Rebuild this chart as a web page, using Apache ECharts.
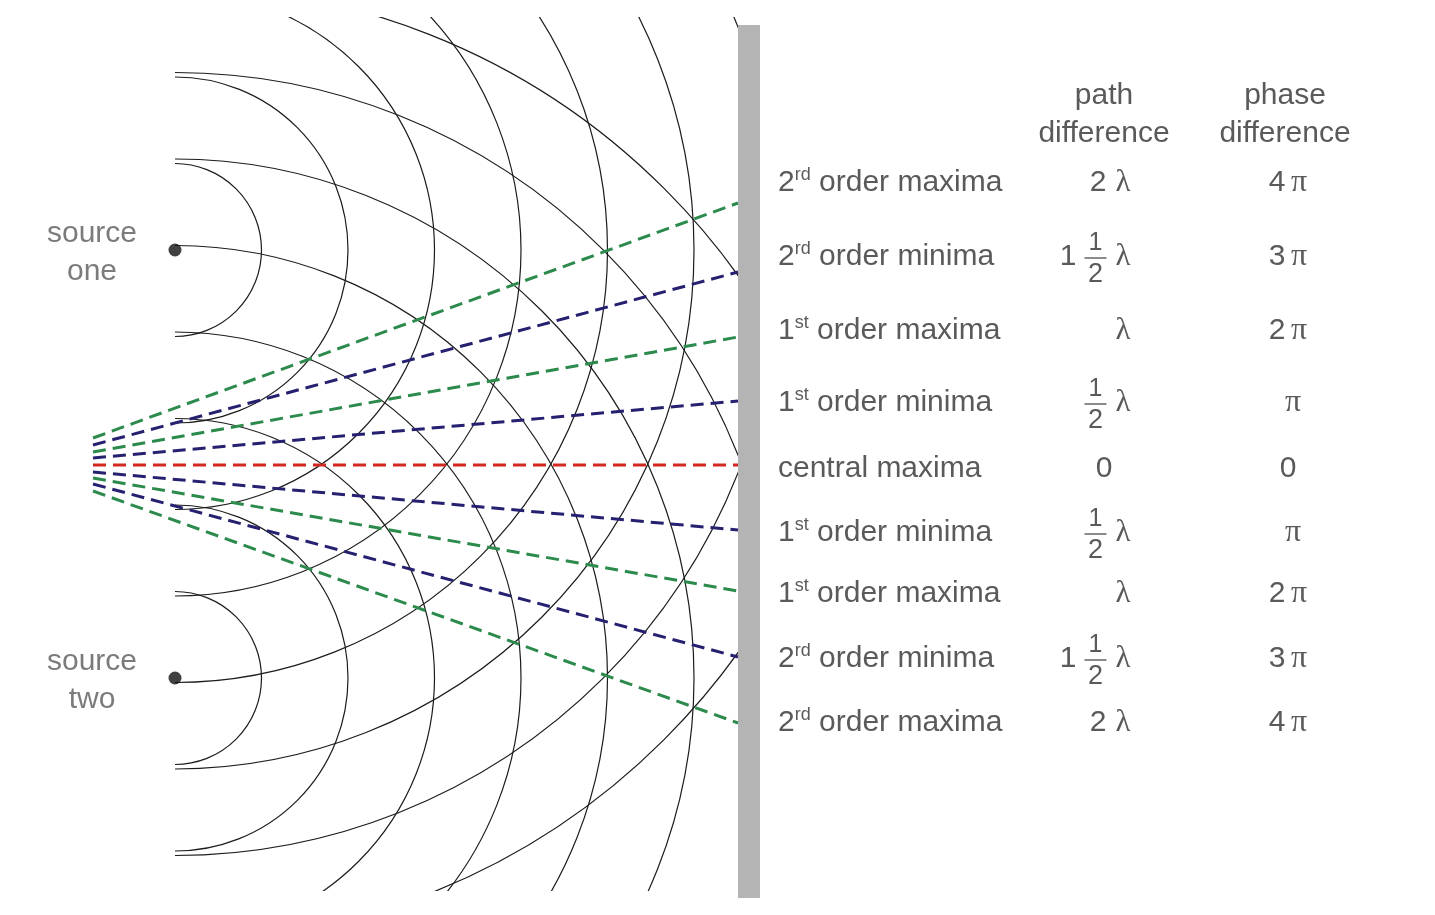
<!DOCTYPE html>
<html>
<head>
<meta charset="utf-8">
<title>Two-source interference</title>
<script src="https://cdn.jsdelivr.net/npm/echarts@6/dist/echarts.min.js"></script>
<style>
  html, body { margin: 0; padding: 0; background: #fff; }
  #chart { width: 1435px; height: 915px; }
</style>
</head>
<body>
<div id="chart"></div>
<script>
// sources and their wavefronts (one crest every wavelength)
const sourceNames = ['source\none', 'source\ntwo'];
const sourceX = [175, 175];
const sourceY = [250, 678];
const waveRadii = [86.5, 173, 259.5, 346, 432.5, 519, 605.5, 692];

// maxima / minima lines: start near the sources, end on the screen
const fringeKinds = ['max', 'min', 'max', 'min', 'central', 'min', 'max', 'min', 'max'];
const fringeStartY = [438, 445, 452, 458, 465, 472, 478, 484, 491];
const fringeEndY = [203, 272, 337, 401, 465, 530, 591, 657, 723];

// table on the right
const headers = ['path\ndifference', 'phase\ndifference'];
const rowLabels = ['2rd order maxima', '2rd order minima', '1st order maxima', '1st order minima',
  'central maxima', '1st order minima', '1st order maxima', '2rd order minima', '2rd order maxima'];
const rowY = [183, 257, 331, 403, 469, 533, 594, 659, 723];
const pathDiff = ['2λ', '1½λ', 'λ', '½λ', '0', '½λ', 'λ', '1½λ', '2λ'];
const phaseDiff = ['4π', '3π', '2π', 'π', '0', 'π', '2π', '3π', '4π'];

// layout
const FRINGE_X0 = 93;
const SCREEN_X = 738;
const WAVE_BOX = [175, 17, 738, 891];
const SCREEN_BOX = [738, 25, 760, 898];
const LABEL_X = 778;
const PATH_X = 1104;
const LAMBDA_X = 1123;
const PHASE_X = 1288;
const HEADER_Y = 115;

const FONT = '"Liberation Sans", Arial, sans-serif';
const SERIF = '"Liberation Serif", serif';
const TEXT = '#5a5a5a';
const fringeColors = { max: '#2b8a4c', min: '#25206f', central: '#d2281d' };

const chart = echarts.init(document.getElementById('chart'));

const arcData = [];
sourceX.forEach((x, s) => waveRadii.forEach(r => arcData.push([x, sourceY[s], r])));

function ordinalRich(label) {
  const m = label.match(/^(\d)(st|nd|rd|th)(.*)$/);
  if (!m) return '{t|' + label + '}';
  return '{t|' + m[1] + '}{s|' + m[2] + '}{t|' + m[3] + '}';
}

// path difference: digits, ½ drawn as a stacked fraction, λ
function pathChildren(str, cx, lx, cy) {
  const toks = Array.from(str);
  const w = t => (t === '½' ? 22 : 17);
  const gap = 8;
  const total = toks.reduce((a, t) => a + w(t), 0) + gap * (toks.length - 1);
  // anchor on λ when there is one, otherwise centre on the column
  let x = toks[toks.length - 1] === 'λ' ? lx + w('λ') / 2 - total : cx - total / 2;
  const out = [];
  toks.forEach(t => {
    const mid = x + w(t) / 2;
    if (t === '½') {
      out.push({ type: 'text', style: { text: '1', x: mid, y: cy - 14, align: 'center', verticalAlign: 'middle', fontSize: 25, fontFamily: FONT, fill: TEXT } });
      out.push({ type: 'line', shape: { x1: mid - 11, y1: cy + 1, x2: mid + 11, y2: cy + 1 }, style: { stroke: TEXT, lineWidth: 1.4 } });
      out.push({ type: 'text', style: { text: '2', x: mid, y: cy + 18, align: 'center', verticalAlign: 'middle', fontSize: 27, fontFamily: FONT, fill: TEXT } });
    } else if (t === 'λ') {
      out.push({ type: 'text', style: { text: t, x: mid, y: cy, align: 'center', verticalAlign: 'middle', fontSize: 31, fontFamily: SERIF, fill: TEXT } });
    } else {
      out.push({ type: 'text', style: { text: t, x: mid, y: cy, align: 'center', verticalAlign: 'middle', fontSize: 30, fontFamily: FONT, fill: TEXT } });
    }
    x += w(t) + gap;
  });
  return out;
}

const option = {
  animation: false,
  backgroundColor: '#ffffff',
  grid: { left: 0, right: 0, top: 0, bottom: 0 },
  xAxis: { type: 'value', min: 0, max: 1435, show: false },
  yAxis: { type: 'value', min: 0, max: 915, inverse: true, show: false },
  series: [
    {
      // screen
      type: 'custom',
      z: 1,
      data: [SCREEN_BOX],
      renderItem: (params, api) => {
        const a = api.coord([api.value(0), api.value(1)]);
        const b = api.coord([api.value(2), api.value(3)]);
        return { type: 'rect', shape: { x: a[0], y: a[1], width: b[0] - a[0], height: b[1] - a[1] }, style: { fill: '#b4b4b4' } };
      }
    },
    {
      // wavefronts
      type: 'custom',
      z: 2,
      data: arcData,
      renderItem: (params, api) => {
        const c = api.coord([api.value(0), api.value(1)]);
        const r = Math.abs(api.size([api.value(2), 0])[0]);
        const a = api.coord([WAVE_BOX[0], WAVE_BOX[1]]);
        const b = api.coord([WAVE_BOX[2], WAVE_BOX[3]]);
        return {
          type: 'arc',
          shape: { cx: c[0], cy: c[1], r: r, startAngle: -Math.PI / 2, endAngle: Math.PI / 2, clockwise: true },
          style: { stroke: '#1c1c1c', lineWidth: 1.2, fill: null },
          clipPath: { type: 'rect', shape: { x: a[0], y: a[1], width: b[0] - a[0], height: b[1] - a[1] } }
        };
      }
    },
    ...fringeKinds.map((k, i) => ({
      type: 'line',
      z: 3,
      symbol: 'none',
      data: [[FRINGE_X0, fringeStartY[i]], [SCREEN_X, fringeEndY[i]]],
      lineStyle: { color: fringeColors[k], width: 3, type: [13, 7] }
    })),
    {
      // sources
      type: 'scatter',
      z: 4,
      symbolSize: 13,
      itemStyle: { color: '#111' },
      data: sourceX.map((x, i) => [x, sourceY[i]]),
      label: {
        show: true,
        position: 'inside',
        offset: [-83, 3],
        align: 'center',
        formatter: p => sourceNames[p.dataIndex],
        fontSize: 30,
        lineHeight: 38,
        fontFamily: FONT,
        color: TEXT
      }
    },
    {
      // table
      type: 'custom',
      z: 5,
      data: rowY.map((y, i) => [i, y]),
      renderItem: (params, api) => {
        const i = api.value(0);
        const p = api.coord([LABEL_X, api.value(1)]);
        const pathP = api.coord([PATH_X, api.value(1)]);
        const lamP = api.coord([LAMBDA_X, api.value(1)]);
        const phaseP = api.coord([PHASE_X, api.value(1)]);
        const ph = phaseDiff[i];
        const phText = ph.includes('π')
          ? (ph.length > 1 ? '{d|' + ph.replace('π', '') + '}{g| }' : '') + '{p|π}'
          : '{d|' + ph + '}';
        const children = [
          {
            type: 'text',
            style: {
              text: ordinalRich(rowLabels[i]), x: p[0], y: p[1], align: 'left', verticalAlign: 'middle',
              rich: {
                t: { fontSize: 30, lineHeight: 34, fontFamily: FONT, fill: TEXT },
                s: { fontSize: 18, lineHeight: 20, fontFamily: FONT, fill: TEXT, verticalAlign: 'top' }
              }
            }
          },
          ...pathChildren(pathDiff[i], pathP[0], lamP[0], pathP[1]),
          {
            type: 'text',
            style: {
              text: phText,
              x: phaseP[0] + (ph.length === 1 && ph === 'π' ? 5 : 0), y: phaseP[1], align: 'center', verticalAlign: 'middle',
              rich: {
                d: { fontSize: 30, fontFamily: FONT, fill: TEXT },
                g: { fontSize: 20, fontFamily: FONT, fill: TEXT },
                p: { fontSize: 32, fontFamily: SERIF, fill: TEXT }
              }
            }
          }
        ];
        if (i === 0) {
          const h1 = api.coord([PATH_X, HEADER_Y]);
          const h2 = api.coord([PHASE_X - 3, HEADER_Y]);
          [h1, h2].forEach((h, k) => children.push({
            type: 'text',
            style: { text: headers[k], x: h[0], y: h[1], align: 'center', verticalAlign: 'middle', fontSize: 30, lineHeight: 38, fontFamily: FONT, fill: TEXT }
          }));
        }
        return { type: 'group', children: children };
      }
    }
  ]
};

chart.setOption(option);
</script>
</body>
</html>
